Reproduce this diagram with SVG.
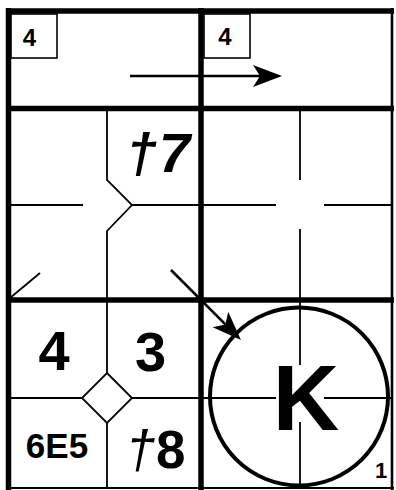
<svg xmlns="http://www.w3.org/2000/svg" width="396" height="490" viewBox="0 0 396 490">
<style>
.thick{stroke:#000;stroke-width:5.5;fill:none}
.thin{stroke:#000;stroke-width:1.8;fill:none}
.t{font-family:"Liberation Sans",Arial,sans-serif;font-weight:bold;fill:#000}
.conn{stroke:#000;stroke-width:2.6;fill:none}
</style>
<defs>
<marker id="ah" markerUnits="userSpaceOnUse" markerWidth="40" markerHeight="30" viewBox="-10 -15 40 30" refX="0" refY="0" orient="auto" overflow="visible">
<path d="M22,0 L-7,-11 L0,0 L-7,11 Z" fill="#000"/>
</marker>
</defs>
<rect width="396" height="490" fill="#fff"/>

<g id="thin-lines">
<path class="thin" d="M107,108 V180 L132,205 L107,231 V488"/>
<path class="thin" d="M11,205 H83 M132,205 H201"/>
<path class="thin" d="M10,298 L40,273"/>
<path class="thin" d="M300,108 V180 M300,229 V300 M201,205 H276 M324,205 H392"/>
<path class="thin" d="M11,398 H201"/>
<path class="thin" d="M300,300 V365 M300,422 V488 M201,398 H276 M324,398 H392"/>
</g>

<g id="frame">
<path class="thick" d="M8.5,8 V490"/>
<path class="thick" d="M6,11 H394"/>
<path stroke="#000" stroke-width="2.6" fill="none" d="M392,8 V490"/>
<path stroke="#000" stroke-width="2" fill="none" d="M6,488 H394"/>
<path class="thick" d="M201,8 V490"/>
<path class="thick" d="M6,108.5 H394"/>
<path class="thick" d="M6,300 H394"/>
</g>

<g id="box-tl">
<rect x="11" y="14" width="46" height="44" fill="#fff" stroke="#000" stroke-width="1.6"/>
<text class="t" x="29.5" y="46" font-size="24" text-anchor="middle">4</text>
</g>
<g id="box-tr">
<rect x="204" y="14" width="46" height="44" fill="#fff" stroke="#000" stroke-width="1.6"/>
<text class="t" x="225" y="45" font-size="24" text-anchor="middle">4</text>
</g>

<g id="label-mid">
<text class="t" y="172" font-size="56" font-style="italic"><tspan x="126">†</tspan><tspan x="159">7</tspan></text>
</g>

<g id="diamond">
<path d="M107,373 L132,398 L107,423 L82,398 Z" fill="#fff" stroke="#000" stroke-width="1.8"/>
</g>

<g id="label-4"><text class="t" x="54" y="370" font-size="56" text-anchor="middle">4</text></g>
<g id="label-3"><text class="t" x="150.5" y="371" font-size="56" text-anchor="middle">3</text></g>
<g id="label-6e5"><text class="t" x="57" y="458" font-size="35" text-anchor="middle">6E5</text></g>
<g id="label-8"><text class="t" y="468" font-size="53"><tspan x="126" font-style="italic" font-weight="normal">†</tspan><tspan x="156">8</tspan></text></g>

<g id="circle-k">
<circle cx="299" cy="396.5" r="89" fill="none" stroke="#000" stroke-width="4"/>
<text class="t" x="306" y="430" font-size="92" text-anchor="middle">K</text>
<text class="t" x="381" y="478" font-size="22" text-anchor="middle">1</text>
</g>

<g id="connectors">
<path class="conn" d="M130,76 H260" marker-end="url(#ah)"/>
<path class="conn" d="M171,270 L225.4,324.4" marker-end="url(#ah)"/>
</g>
</svg>
